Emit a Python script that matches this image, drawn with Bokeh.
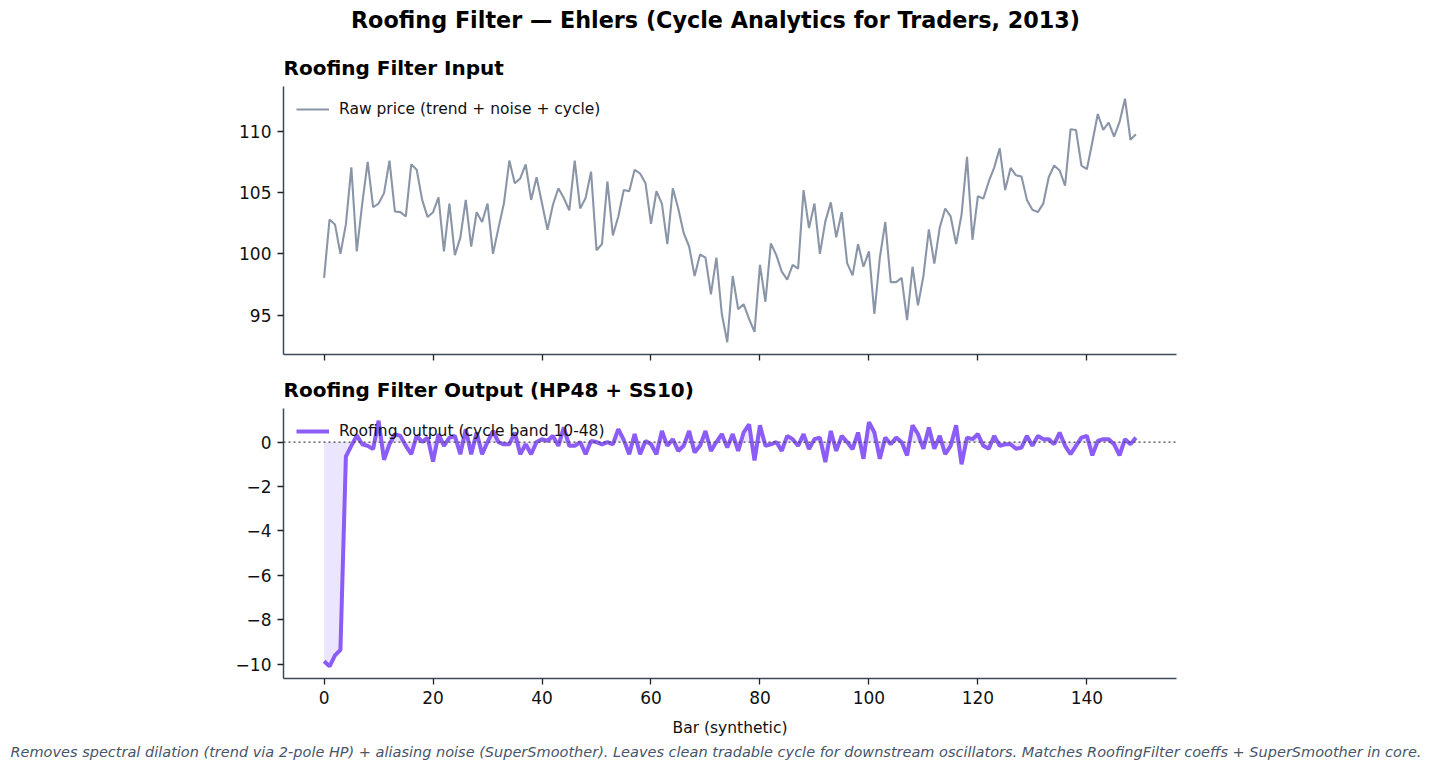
from bokeh.plotting import figure
from bokeh.layouts import column
from bokeh.models import (Title, Range1d, FixedTicker, Legend, LegendItem, Span, Label,
                          CustomJSTickFormatter, ColumnDataSource)
from bokeh.embed import file_html
from bokeh.resources import INLINE

# ---------------- data ----------------
bars = list(range(150))

raw_price = [
    98.05, 102.8, 102.4, 100.0, 102.4, 107.05, 100.2, 104.1, 107.5, 103.8,
    104.1, 104.95, 107.6, 103.45, 103.4, 103.05, 107.3, 106.85, 104.4, 103.0,
    103.4, 104.6, 100.2, 104.1, 99.9, 101.3, 104.4, 100.6, 103.4, 102.6,
    104.1, 100.0, 102.1, 104.1, 107.6, 105.75, 106.15, 107.3, 104.4, 106.25,
    104.1, 101.97, 104.0, 105.35, 104.55, 103.55, 107.6, 103.7, 104.55, 106.7,
    100.3, 100.8, 105.9, 101.5, 103.05, 105.2, 105.1, 106.85, 106.55, 105.75,
    102.45, 105.1, 104.1, 100.8, 105.35, 103.7, 101.7, 100.6, 98.2, 99.95,
    99.7, 96.7, 99.7, 95.1, 92.8, 98.2, 95.5, 95.9, 94.7, 93.65,
    99.1, 96.1, 100.85, 99.9, 98.55, 97.9, 99.1, 98.8, 105.2, 102.1,
    104.1, 100.0, 102.65, 104.2, 101.35, 103.4, 99.25, 98.25, 100.8, 98.95,
    100.2, 95.1, 99.7, 102.6, 97.7, 97.7, 98.05, 94.6, 98.95, 95.8,
    98.2, 102.0, 99.2, 102.15, 103.7, 103.05, 100.8, 103.2, 107.9, 101.15,
    104.7, 104.5, 105.9, 107.05, 108.6, 105.2, 107.0, 106.4, 106.3, 104.4,
    103.6, 103.4, 104.1, 106.25, 107.2, 106.8, 105.55, 110.15, 110.1, 107.2,
    106.9, 109.1, 111.4, 110.1, 110.7, 109.55, 110.75, 112.65, 109.3, 109.75,
]

roofing = [
    -9.86, -10.09, -9.6, -9.35, -0.65, -0.17, 0.3, -0.1, -0.17, -0.32,
    0.96, -0.8, -0.1, 0.36, 0.28, -0.17, -0.55, 0.29, 0.0, 0.2,
    -0.88, 0.36, -0.17, 0.2, 0.28, -0.55, 0.58, -0.55, 0.43, -0.55,
    0.0, 0.5, 0.0, -0.1, -0.1, 0.43, -0.55, -0.1, -0.55, 0.0,
    0.13, 0.05, 0.28, -0.17, 0.66, -0.17, -0.17, 0.0, -0.55, 0.05,
    0.0, -0.1, 0.0, -0.1, 0.58, 0.1, -0.55, 0.36, -0.55, 0.05,
    -0.1, -0.55, 0.5, -0.17, 0.13, -0.4, -0.17, 0.5, -0.47, -0.17,
    0.5, -0.4, 0.0, 0.36, -0.25, 0.36, -0.4, 0.43, 0.8, -0.83,
    0.75, -0.17, -0.1, 0.0, -0.4, 0.28, 0.13, -0.17, 0.36, -0.32,
    0.13, 0.2, -0.9, 0.5, -0.4, 0.28, 0.0, -0.32, 0.43, -0.75,
    0.9, 0.43, -0.75, 0.2, -0.1, 0.2, 0.0, -0.6, 0.75, 0.36,
    -0.3, 0.66, -0.3, 0.28, -0.55, -0.17, 0.75, -1.0, 0.2, 0.13,
    0.36, -0.17, -0.3, 0.28, -0.17, -0.1, -0.1, -0.3, -0.25, 0.28,
    -0.17, 0.28, 0.13, 0.13, -0.1, 0.43, -0.17, -0.55, -0.17, 0.2,
    0.28, -0.6, 0.05, 0.13, 0.13, -0.1, -0.6, 0.13, -0.1, 0.2,
]

x_ticks = [0, 20, 40, 60, 80, 100, 120, 140]
top_ticks = [95, 100, 105, 110]
bottom_ticks = [-10, -8, -6, -4, -2, 0]

main_title = "Roofing Filter \u2014 Ehlers (Cycle Analytics for Traders, 2013)"
top_title = "Roofing Filter Input"
bottom_title = "Roofing Filter Output (HP48 + SS10)"
raw_label = "Raw price (trend + noise + cycle)"
roof_label = "Roofing output (cycle band 10-48)"
x_label = "Bar (synthetic)"
footnote = ("Removes spectral dilation (trend via 2-pole HP) + aliasing noise (SuperSmoother). "
            "Leaves clean tradable cycle for downstream oscillators. "
            "Matches RoofingFilter coeffs + SuperSmoother in core.")

# ---------------- styling ----------------
FONT = "DejaVu Sans"
AXIS_COLOR = "#3d4758"
RAW_COLOR = "#8a96a8"
ROOF_COLOR = "#8b5cf6"
FRAME_W = 893
LEFT = 283
RIGHT = 253
PAGE_CENTER = 715 - LEFT   # page centre expressed in strip-frame pixels

src = ColumnDataSource(dict(x=bars, price=raw_price, roof=roofing, zero=[0.0] * len(bars)))
xr = Range1d(-7.45, 156.45)

minus_fmt = CustomJSTickFormatter(code="return String(tick).replace('-', '\u2212');")
blank_fmt = CustomJSTickFormatter(code="return '';")


def style(p):
    p.outline_line_color = None
    p.xgrid.visible = False
    p.ygrid.visible = False
    p.background_fill_color = "white"
    p.border_fill_color = "white"
    for ax in (p.xaxis[0], p.yaxis[0]):
        ax.axis_line_color = AXIS_COLOR
        ax.axis_line_width = 1.5
        ax.major_tick_line_color = "#222222"
        ax.major_tick_line_width = 1.3
        ax.major_tick_out = 6
        ax.major_tick_in = 0
        ax.minor_tick_line_color = None
        ax.major_label_text_font = FONT
        ax.major_label_text_font_size = "17px"
        ax.major_label_text_color = "#111111"
        ax.major_label_standoff = 6
    p.xaxis[0].ticker = FixedTicker(ticks=x_ticks)
    p.title.text_font = FONT
    p.title.text_font_size = "20px"
    p.title.text_font_style = "bold"
    p.title.text_color = "#000000"
    p.title.align = "left"
    p.title.standoff = 14


def legend(p, renderer, label):
    lg = Legend(items=[LegendItem(label=label, renderers=[renderer])], location="top_left")
    lg.background_fill_alpha = 0
    lg.border_line_alpha = 0
    lg.label_text_font = FONT
    lg.label_text_font_size = "15.5px"
    lg.label_text_color = "#111111"
    lg.glyph_width = 33
    lg.margin = 5
    lg.padding = 8
    lg.label_standoff = 10
    p.add_layout(lg)


# ---------------- header (suptitle) ----------------
HEAD_H = 40
header = figure(frame_width=FRAME_W, frame_height=HEAD_H, min_border_left=LEFT,
                min_border_right=RIGHT, min_border_top=0, min_border_bottom=0,
                x_range=Range1d(0, FRAME_W), y_range=Range1d(0, HEAD_H),
                x_axis_type=None, y_axis_type=None, toolbar_location=None,
                output_backend="svg")
header.outline_line_color = None
header.border_fill_color = "white"
header.add_layout(Label(x=PAGE_CENTER, y=HEAD_H - 19, text=main_title, text_align="center",
                        text_baseline="middle", text_font=FONT, text_font_size="22.3px",
                        text_font_style="bold", text_color="#000000"))

# ---------------- top panel ----------------
p1 = figure(frame_width=FRAME_W, frame_height=268, min_border_left=LEFT, min_border_right=RIGHT,
            min_border_top=46, min_border_bottom=14, x_range=xr, y_range=Range1d(91.8, 113.64),
            title=top_title, toolbar_location=None, output_backend="svg")
style(p1)
p1.yaxis[0].ticker = FixedTicker(ticks=top_ticks)
p1.xaxis[0].formatter = blank_fmt
p1.xaxis[0].major_label_standoff = 0
r_raw = p1.line("x", "price", source=src, line_color=RAW_COLOR, line_width=2.1)
legend(p1, r_raw, raw_label)

# ---------------- bottom panel ----------------
p2 = figure(frame_width=FRAME_W, frame_height=270, min_border_left=LEFT, min_border_right=RIGHT,
            min_border_top=40, min_border_bottom=86, x_range=xr, y_range=Range1d(-10.64, 1.51),
            title=bottom_title, toolbar_location=None, output_backend="svg")
style(p2)
p2.yaxis[0].ticker = FixedTicker(ticks=bottom_ticks)
p2.yaxis[0].formatter = minus_fmt
p2.xaxis[0].axis_label = x_label
p2.xaxis[0].axis_label_text_font = FONT
p2.xaxis[0].axis_label_text_font_size = "15.5px"
p2.xaxis[0].axis_label_text_font_style = "normal"
p2.xaxis[0].axis_label_text_color = "#111111"
p2.xaxis[0].axis_label_standoff = 12
p2.varea(x="x", y1="zero", y2="roof", source=src, fill_color=ROOF_COLOR, fill_alpha=0.16)
p2.add_layout(Span(location=0, dimension="width", line_color="#444444", line_width=1.3,
                   line_dash="2 3"))
r_roof = p2.line("x", "roof", source=src, line_color=ROOF_COLOR, line_width=4)
legend(p2, r_roof, roof_label)
p2.add_layout(Title(text=footnote, align="left", offset=-273, text_font=FONT,
                    text_font_size="14.5px", text_font_style="italic", text_color="#475569",
                    standoff=5), "below")

layout = column(header, p1, p2)
open("out.html", "w").write(file_html(layout, INLINE))
